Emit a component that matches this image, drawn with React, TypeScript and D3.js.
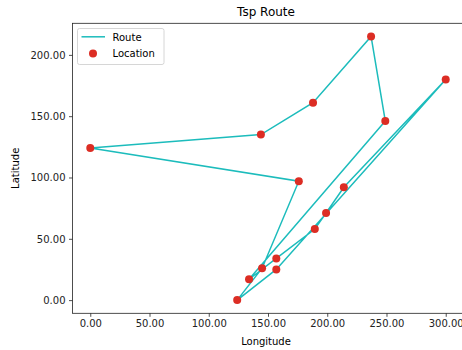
import * as d3 from "d3";
import { useRef, useEffect } from "react";

// locations in route order (the route closes back on the first one)
const longitude = [0, 144, 188, 237, 249, 134, 157, 189.5, 199, 214, 300, 157, 124, 145, 176];
const latitude = [124, 135, 161, 215, 146, 17, 34, 58, 71, 92, 180, 25, 0, 26, 97];
const xTicks = [0, 50, 100, 150, 200, 250, 300];
const yTicks = [0, 50, 100, 150, 200];

const width = 462, height = 350;
const margin = { left: 72.5, right: -1.5, top: 23.3, bottom: 36.7 };
const lineColor = "#1cbcbc";
const dotColor = "#dc2d24";
const font = "DejaVu Sans, sans-serif";

function padded(vals: number[]): [number, number] {
    const [lo, hi] = d3.extent(vals) as [number, number];
    const pad = (hi - lo) * 0.05;
    return [lo - pad, hi + pad];
}

function TspChart() {
    const containerRef = useRef<HTMLDivElement>(null);

    useEffect(() => {
        document.body.style.margin = "0";
        d3.select(containerRef.current).select("svg").remove();
        const pts = longitude.map((lon, i) => ({ lon, lat: latitude[i] }));

        const svg = d3.select(containerRef.current)
            .append("svg")
            .attr("width", width)
            .attr("height", height)
            .style("display", "block")
            .style("font-family", font);

        const x = d3.scaleLinear().domain(padded(longitude)).range([margin.left, width - margin.right]);
        const y = d3.scaleLinear().domain(padded(latitude)).range([height - margin.bottom, margin.top]);

        // title
        svg.append("text")
            .attr("x", 266)
            .attr("y", 16)
            .attr("text-anchor", "middle")
            .style("font-size", "12px")
            .text("Tsp Route");

        // route line, closed
        const line = d3.line<{ lon: number; lat: number }>()
            .x((d) => x(d.lon))
            .y((d) => y(d.lat));
        svg.append("path")
            .attr("d", line([...pts, pts[0]]))
            .attr("fill", "none")
            .attr("stroke", lineColor)
            .attr("stroke-width", 1.5);

        // locations
        svg.append("g")
            .selectAll("circle")
            .data(pts)
            .join("circle")
            .attr("cx", (d) => x(d.lon))
            .attr("cy", (d) => y(d.lat))
            .attr("r", 4)
            .attr("fill", dotColor);

        // axes
        const xAxis = d3.axisBottom(x).tickValues(xTicks).tickSize(3.5).tickPadding(3.5)
            .tickFormat((d) => (d as number).toFixed(2));
        const yAxis = d3.axisLeft(y).tickValues(yTicks).tickSize(3.5).tickPadding(3.5)
            .tickFormat((d) => (d as number).toFixed(2));

        const gx = svg.append("g")
            .attr("transform", `translate(0,${height - margin.bottom})`)
            .call(xAxis);
        const gy = svg.append("g")
            .attr("transform", `translate(${margin.left},0)`)
            .call(yAxis);
        [gx, gy].forEach((g) => {
            g.selectAll(".domain").remove();
            g.selectAll("line").attr("stroke", "#222").attr("stroke-width", 0.8);
            g.selectAll("text").attr("fill", "#222").style("font-size", "10px").style("font-family", font);
        });

        // frame
        svg.append("rect")
            .attr("x", margin.left)
            .attr("y", margin.top)
            .attr("width", width - margin.right - margin.left)
            .attr("height", height - margin.bottom - margin.top)
            .attr("fill", "none")
            .attr("stroke", "#222")
            .attr("stroke-width", 0.8);

        // axis labels
        svg.append("text")
            .attr("x", 266)
            .attr("y", 345)
            .attr("text-anchor", "middle")
            .style("font-size", "10px")
            .text("Longitude");
        svg.append("text")
            .attr("transform", `translate(19,${(margin.top + height - margin.bottom) / 2}) rotate(-90)`)
            .attr("text-anchor", "middle")
            .style("font-size", "10px")
            .text("Latitude");

        // legend
        const lg = svg.append("g").attr("transform", "translate(77.5,28.5)");
        lg.append("rect")
            .attr("width", 86.5)
            .attr("height", 36)
            .attr("rx", 2)
            .attr("fill", "white")
            .attr("fill-opacity", 0.8)
            .attr("stroke", "#cccccc")
            .attr("stroke-width", 0.8);
        lg.append("line")
            .attr("x1", 4).attr("x2", 27.5)
            .attr("y1", 8.3).attr("y2", 8.3)
            .attr("stroke", lineColor)
            .attr("stroke-width", 1.5);
        lg.append("circle")
            .attr("cx", 15.5).attr("cy", 25)
            .attr("r", 4)
            .attr("fill", dotColor);
        lg.append("text").attr("x", 35).attr("y", 12).style("font-size", "10px").text("Route");
        lg.append("text").attr("x", 35).attr("y", 28.6).style("font-size", "10px").text("Location");
    });

    return <div ref={containerRef}></div>;
}

export default function App() {
    return <TspChart />;
}
